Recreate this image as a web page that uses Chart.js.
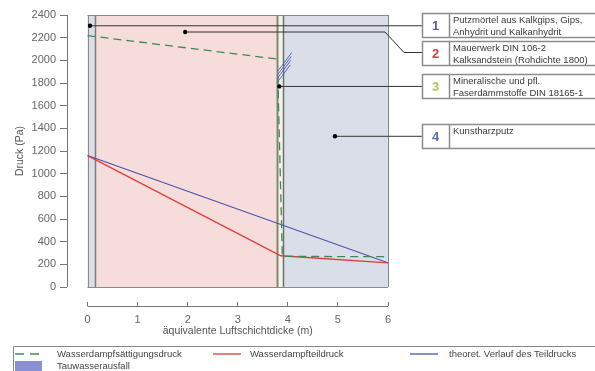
<!DOCTYPE html>
<html>
<head>
<meta charset="utf-8">
<script src="https://cdn.jsdelivr.net/npm/chart.js@4.4.1/dist/chart.umd.min.js"></script>
<style>
  html,body{margin:0;padding:0;background:#fff}
  canvas{display:block}
</style>
</head>
<body>
<canvas id="c" width="595" height="371"></canvas>
<script>
// Schichtaufbau: Grenzen in äquivalenter Luftschichtdicke (m)
const layerEdges = [0, 0.15, 3.78, 3.91, 6.0];
const layerColors = ['#dadee9', '#f7dcdc', '#f1f5e6', '#dadee9'];
const layerNums = ['1', '2', '3', '4'];
const layerNumColors = ['#5b5ca6', '#d23c3c', '#b9c063', '#5f6cb0'];
const layerText = [
  ['Putzmörtel aus Kalkgips, Gips,', 'Anhydrit und Kalkanhydrit'],
  ['Mauerwerk DIN 106-2', 'Kalksandstein (Rohdichte 1800)'],
  ['Mineralische und pfl.', 'Faserdämmstoffe DIN 18165-1'],
  ['Kunstharzputz']
];
// Punkte, an denen die Beschriftungslinien ansetzen
const anchorX = [0.05, 1.95, 3.83, 4.94];
const anchorY = [2305, 2250, 1770, 1330];

// Achsen
const xTicks = [0, 1, 2, 3, 4, 5, 6];
const yTicks = [0, 200, 400, 600, 800, 1000, 1200, 1400, 1600, 1800, 2000, 2200, 2400];
const xTitle = 'äquivalente Luftschichtdicke (m)';
const yTitle = 'Druck (Pa)';

// Kurven (Pa)
const satX = [0, 3.78, null, 3.80, 3.89, 6.0];
const satY = [2218, 2012, null, 1850, 270, 268];
const partX = [0, 3.86, 6.0];
const partY = [1160, 276, 214];
const theoX = [0, 6.0];
const theoY = [1160, 214];
// Tauwasserausfall (Schraffur)
const condX = [3.78, 4.05, null, 3.78, 4.06, null, 3.79, 4.07, null, 3.80, 4.08];
const condY = [1800, 1960, null, 1835, 2000, null, 1870, 2035, null, 1905, 2070];

const seriesLabels = ['Wasserdampfsättigungsdruck', 'Wasserdampfteildruck', 'theoret. Verlauf des Teildrucks', 'Tauwasserausfall'];
const seriesColors = ['#3d8a55', '#e03c3c', '#4a50a8', '#8a90d4'];

function pts(xs, ys){
  return xs.map((v, i) => ({x: v, y: ys[i]}));
}

const FONT = '"Liberation Sans", Arial, sans-serif';

const deco = {
  id: 'deco',
  beforeDatasetsDraw(chart){
    const {ctx, scales: {x, y}} = chart;
    const top = y.getPixelForValue(yTicks[yTicks.length - 1]);
    const bot = y.getPixelForValue(0);
    ctx.save();
    for (let i = 0; i < layerColors.length; i++) {
      const l = x.getPixelForValue(layerEdges[i]);
      const r = x.getPixelForValue(layerEdges[i + 1]);
      ctx.fillStyle = layerColors[i];
      ctx.fillRect(l, top, r - l, bot - top);
    }
    // Schichtgrenzen
    const edgeStyle = [['#8a8a8a', 1], ['#7d7d78', 1.5], ['#86826f', 2], ['#6f6f6f', 1.5], ['#8a8a8a', 1]];
    layerEdges.forEach((e, i) => {
      const px = Math.round(x.getPixelForValue(e)) + 0.5;
      ctx.strokeStyle = edgeStyle[i][0];
      ctx.lineWidth = edgeStyle[i][1];
      ctx.beginPath(); ctx.moveTo(px, top); ctx.lineTo(px, bot); ctx.stroke();
    });
    ctx.strokeStyle = '#8a8a8a'; ctx.lineWidth = 1;
    ctx.beginPath();
    ctx.moveTo(x.getPixelForValue(0), Math.round(top) + 0.5); ctx.lineTo(x.getPixelForValue(6), Math.round(top) + 0.5);
    ctx.moveTo(x.getPixelForValue(0), Math.round(bot) + 0.5); ctx.lineTo(x.getPixelForValue(6), Math.round(bot) + 0.5);
    ctx.stroke();
    ctx.restore();
  },
  afterDatasetsDraw(chart){
    const {ctx, chartArea, scales: {x, y}} = chart;
    ctx.save();
    // Achsenlinien im R-Stil
    ctx.strokeStyle = '#777'; ctx.lineWidth = 1;
    const ax = chartArea.left + 0.5;
    ctx.beginPath();
    ctx.moveTo(ax, y.getPixelForValue(0)); ctx.lineTo(ax, y.getPixelForValue(2400));
    const ay = chartArea.bottom + 4.5;
    ctx.moveTo(x.getPixelForValue(0), ay); ctx.lineTo(x.getPixelForValue(6), ay);
    ctx.stroke();

    // Achsentitel (mittig über dem Datenbereich, wie im Original)
    ctx.fillStyle = '#555';
    ctx.font = '10.5px ' + FONT;
    ctx.textAlign = 'center'; ctx.textBaseline = 'middle';
    ctx.fillText(xTitle, (x.getPixelForValue(0) + x.getPixelForValue(6)) / 2, 331.5);
    ctx.save();
    ctx.translate(20, (y.getPixelForValue(0) + y.getPixelForValue(2400)) / 2);
    ctx.rotate(-Math.PI / 2);
    ctx.fillText(yTitle, 0, 0);
    ctx.restore();

    // Beschriftungskästen
    const boxL = 422, boxTop = [13, 41, 74, 124], boxH = 24;
    const leadY = [25.5, 52.5, 86.5, 136];
    ctx.lineWidth = 1;
    for (let i = 0; i < 4; i++) {
      const dx = x.getPixelForValue(anchorX[i]);
      const dy = y.getPixelForValue(anchorY[i]);
      ctx.strokeStyle = '#333';
      ctx.beginPath();
      ctx.moveTo(dx, dy);
      if (i === 1) {
        ctx.lineTo(385, dy); ctx.lineTo(404, leadY[i]); ctx.lineTo(boxL, leadY[i]);
      } else {
        ctx.lineTo(boxL, dy);
      }
      ctx.stroke();
      ctx.fillStyle = '#000';
      ctx.beginPath(); ctx.arc(dx, dy, 2.2, 0, Math.PI * 2); ctx.fill();

      const t = boxTop[i];
      ctx.strokeStyle = '#8c8c8c'; ctx.lineWidth = 1.5;
      ctx.strokeRect(boxL + 0.5, t + 0.5, 200, boxH);
      ctx.beginPath(); ctx.moveTo(449.5, t); ctx.lineTo(449.5, t + boxH + 1); ctx.stroke();
      ctx.lineWidth = 1;
      ctx.fillStyle = layerNumColors[i];
      ctx.font = 'bold 13px ' + FONT;
      ctx.textAlign = 'center'; ctx.textBaseline = 'middle';
      ctx.fillText(layerNums[i], 435.5, t + boxH / 2 + 1);
      ctx.fillStyle = '#3a3a3a';
      ctx.font = '9.5px ' + FONT;
      ctx.textAlign = 'left';
      layerText[i].forEach((s, k) => ctx.fillText(s, 453, t + 7 + k * 12));
    }

    // Legende
    ctx.strokeStyle = '#888'; ctx.lineWidth = 1;
    ctx.beginPath();
    ctx.moveTo(13.5, 371); ctx.lineTo(13.5, 346.5); ctx.lineTo(595, 346.5);
    ctx.stroke();
    const row1 = 354;
    const entries = [[15, 57], [213, 250], [410, 449]];
    ctx.font = '9.5px ' + FONT;
    ctx.textAlign = 'left'; ctx.textBaseline = 'middle';
    entries.forEach((e, i) => {
      ctx.strokeStyle = seriesColors[i];
      ctx.lineWidth = 1.3;
      ctx.setLineDash(i === 0 ? [9, 6] : []);
      ctx.beginPath(); ctx.moveTo(e[0], row1); ctx.lineTo(e[0] + 28, row1); ctx.stroke();
      ctx.setLineDash([]);
      ctx.fillStyle = '#444';
      ctx.fillText(seriesLabels[i], e[1], row1);
    });
    ctx.fillStyle = seriesColors[3];
    ctx.fillRect(15, 361, 27, 10);
    ctx.fillStyle = '#444';
    ctx.fillText(seriesLabels[3], 57, 366);
    ctx.restore();
  }
};

new Chart(document.getElementById('c'), {
  type: 'scatter',
  data: {
    datasets: [
      {label: seriesLabels[0], data: pts(satX, satY), showLine: true, borderColor: seriesColors[0],
       borderWidth: 1.3, borderDash: [8, 5], pointRadius: 0, spanGaps: false},
      {label: seriesLabels[1], data: pts(partX, partY), showLine: true, borderColor: seriesColors[1],
       borderWidth: 1.3, pointRadius: 0},
      {label: seriesLabels[2], data: pts(theoX, theoY), showLine: true, borderColor: seriesColors[2],
       borderWidth: 1.2, pointRadius: 0},
      {label: seriesLabels[3], data: pts(condX, condY), showLine: true, borderColor: '#5a63c4',
       borderWidth: 1, pointRadius: 0, spanGaps: false}
    ]
  },
  options: {
    responsive: false,
    animation: false,
    layout: {padding: {left: 0, top: 15, right: 207, bottom: 33}},
    plugins: {legend: {display: false}, tooltip: {enabled: false}},
    scales: {
      x: {
        type: 'linear', min: -0.41, max: 6,
        afterBuildTicks: s => { s.ticks = xTicks.map(v => ({value: v})); },
        afterFit: s => { s.height = 36; },
        border: {display: false},
        grid: {display: true, drawOnChartArea: false, drawTicks: true, tickLength: 4, color: '#777'},
        ticks: {color: '#666', font: {size: 11, family: FONT}, padding: 7, maxRotation: 0, autoSkip: false,
                callback: v => String(v)}
      },
      y: {
        type: 'linear', min: -132, max: 2400,
        afterBuildTicks: s => { s.ticks = yTicks.map(v => ({value: v})); },
        afterFit: s => { s.width = 67; },
        border: {display: false},
        grid: {display: true, drawOnChartArea: false, drawTicks: true, tickLength: 7, color: '#777'},
        ticks: {color: '#666', font: {size: 11, family: FONT}, padding: 4, autoSkip: false,
                callback: v => String(v)}
      }
    }
  },
  plugins: [deco]
});
</script>
</body>
</html>
